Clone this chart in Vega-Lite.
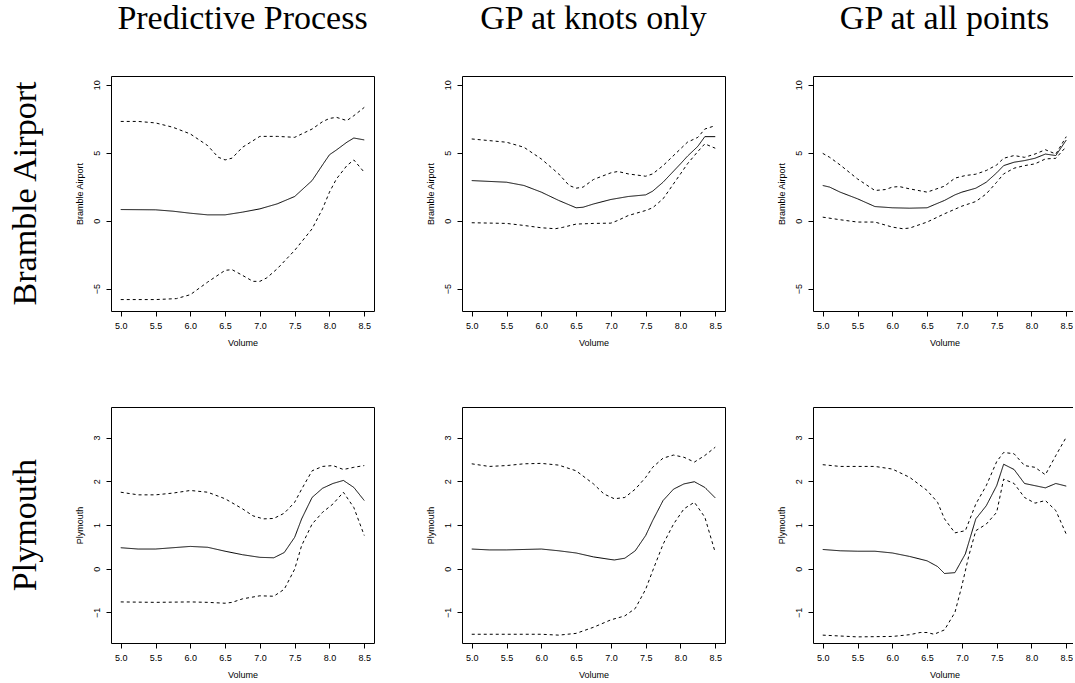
{
  "$schema": "https://vega.github.io/schema/vega-lite/v6.json",
  "background": "white",
  "padding": {"left": 8, "top": 2, "right": -4, "bottom": 0},
  "datasets": {
    "panels": [
      {"p": 1, "site": "Bramble Airport", "method": "Predictive Process"},
      {"p": 2, "site": "Bramble Airport", "method": "GP at knots only"},
      {"p": 3, "site": "Bramble Airport", "method": "GP at all points"},
      {"p": 4, "site": "Plymouth", "method": "Predictive Process"},
      {"p": 5, "site": "Plymouth", "method": "GP at knots only"},
      {"p": 6, "site": "Plymouth", "method": "GP at all points"}
    ],
    "pts": [
      {"p":1,"band":"m","volume":5.0,"value":0.82},{"p":1,"band":"m","volume":5.5,"value":0.8},{"p":1,"band":"m","volume":5.75,"value":0.7},{"p":1,"band":"m","volume":6.0,"value":0.55},{"p":1,"band":"m","volume":6.25,"value":0.43},{"p":1,"band":"m","volume":6.5,"value":0.43},{"p":1,"band":"m","volume":6.75,"value":0.63},{"p":1,"band":"m","volume":7.0,"value":0.87},{"p":1,"band":"m","volume":7.25,"value":1.24},{"p":1,"band":"m","volume":7.5,"value":1.78},{"p":1,"band":"m","volume":7.75,"value":2.95},{"p":1,"band":"m","volume":7.9,"value":4.1},{"p":1,"band":"m","volume":8.0,"value":4.85},{"p":1,"band":"m","volume":8.1,"value":5.2},{"p":1,"band":"m","volume":8.25,"value":5.77},{"p":1,"band":"m","volume":8.35,"value":6.08},{"p":1,"band":"m","volume":8.5,"value":5.94},
      {"p":1,"band":"u","volume":5.0,"value":7.3},{"p":1,"band":"u","volume":5.25,"value":7.3},{"p":1,"band":"u","volume":5.5,"value":7.19},{"p":1,"band":"u","volume":5.75,"value":6.87},{"p":1,"band":"u","volume":6.0,"value":6.38},{"p":1,"band":"u","volume":6.25,"value":5.52},{"p":1,"band":"u","volume":6.4,"value":4.67},{"p":1,"band":"u","volume":6.5,"value":4.47},{"p":1,"band":"u","volume":6.6,"value":4.6},{"p":1,"band":"u","volume":6.75,"value":5.4},{"p":1,"band":"u","volume":7.0,"value":6.2},{"p":1,"band":"u","volume":7.25,"value":6.2},{"p":1,"band":"u","volume":7.5,"value":6.13},{"p":1,"band":"u","volume":7.75,"value":6.74},{"p":1,"band":"u","volume":7.9,"value":7.28},{"p":1,"band":"u","volume":8.0,"value":7.52},{"p":1,"band":"u","volume":8.1,"value":7.6},{"p":1,"band":"u","volume":8.25,"value":7.36},{"p":1,"band":"u","volume":8.35,"value":7.72},{"p":1,"band":"u","volume":8.5,"value":8.33},
      {"p":1,"band":"l","volume":5.0,"value":-5.8},{"p":1,"band":"l","volume":5.5,"value":-5.8},{"p":1,"band":"l","volume":5.8,"value":-5.73},{"p":1,"band":"l","volume":6.0,"value":-5.44},{"p":1,"band":"l","volume":6.25,"value":-4.51},{"p":1,"band":"l","volume":6.5,"value":-3.65},{"p":1,"band":"l","volume":6.6,"value":-3.6},{"p":1,"band":"l","volume":6.75,"value":-4.02},{"p":1,"band":"l","volume":6.9,"value":-4.46},{"p":1,"band":"l","volume":7.0,"value":-4.46},{"p":1,"band":"l","volume":7.1,"value":-4.2},{"p":1,"band":"l","volume":7.25,"value":-3.53},{"p":1,"band":"l","volume":7.5,"value":-2.18},{"p":1,"band":"l","volume":7.75,"value":-0.6},{"p":1,"band":"l","volume":7.9,"value":0.87},{"p":1,"band":"l","volume":8.0,"value":2.1},{"p":1,"band":"l","volume":8.1,"value":3.07},{"p":1,"band":"l","volume":8.25,"value":4.05},{"p":1,"band":"l","volume":8.35,"value":4.47},{"p":1,"band":"l","volume":8.5,"value":3.56},

      {"p":2,"band":"m","volume":5.0,"value":2.95},{"p":2,"band":"m","volume":5.5,"value":2.83},{"p":2,"band":"m","volume":5.75,"value":2.59},{"p":2,"band":"m","volume":6.0,"value":2.1},{"p":2,"band":"m","volume":6.25,"value":1.49},{"p":2,"band":"m","volume":6.5,"value":0.95},{"p":2,"band":"m","volume":6.6,"value":0.99},{"p":2,"band":"m","volume":6.75,"value":1.23},{"p":2,"band":"m","volume":7.0,"value":1.56},{"p":2,"band":"m","volume":7.25,"value":1.78},{"p":2,"band":"m","volume":7.5,"value":1.9},{"p":2,"band":"m","volume":7.6,"value":2.17},{"p":2,"band":"m","volume":7.75,"value":2.83},{"p":2,"band":"m","volume":8.0,"value":4.18},{"p":2,"band":"m","volume":8.1,"value":4.74},{"p":2,"band":"m","volume":8.25,"value":5.47},{"p":2,"band":"m","volume":8.35,"value":6.18},{"p":2,"band":"m","volume":8.5,"value":6.18},
      {"p":2,"band":"u","volume":5.0,"value":6.01},{"p":2,"band":"u","volume":5.5,"value":5.77},{"p":2,"band":"u","volume":5.75,"value":5.4},{"p":2,"band":"u","volume":6.0,"value":4.54},{"p":2,"band":"u","volume":6.25,"value":3.44},{"p":2,"band":"u","volume":6.4,"value":2.59},{"p":2,"band":"u","volume":6.5,"value":2.39},{"p":2,"band":"u","volume":6.6,"value":2.47},{"p":2,"band":"u","volume":6.75,"value":3.03},{"p":2,"band":"u","volume":7.0,"value":3.52},{"p":2,"band":"u","volume":7.1,"value":3.62},{"p":2,"band":"u","volume":7.25,"value":3.44},{"p":2,"band":"u","volume":7.5,"value":3.27},{"p":2,"band":"u","volume":7.6,"value":3.44},{"p":2,"band":"u","volume":7.75,"value":4.05},{"p":2,"band":"u","volume":8.0,"value":5.28},{"p":2,"band":"u","volume":8.1,"value":5.77},{"p":2,"band":"u","volume":8.25,"value":6.13},{"p":2,"band":"u","volume":8.35,"value":6.74},{"p":2,"band":"u","volume":8.5,"value":6.99},
      {"p":2,"band":"l","volume":5.0,"value":-0.15},{"p":2,"band":"l","volume":5.5,"value":-0.2},{"p":2,"band":"l","volume":5.75,"value":-0.35},{"p":2,"band":"l","volume":6.0,"value":-0.52},{"p":2,"band":"l","volume":6.2,"value":-0.59},{"p":2,"band":"l","volume":6.3,"value":-0.5},{"p":2,"band":"l","volume":6.5,"value":-0.25},{"p":2,"band":"l","volume":6.75,"value":-0.2},{"p":2,"band":"l","volume":7.0,"value":-0.18},{"p":2,"band":"l","volume":7.1,"value":0.02},{"p":2,"band":"l","volume":7.25,"value":0.38},{"p":2,"band":"l","volume":7.5,"value":0.75},{"p":2,"band":"l","volume":7.6,"value":0.95},{"p":2,"band":"l","volume":7.75,"value":1.61},{"p":2,"band":"l","volume":8.0,"value":3.44},{"p":2,"band":"l","volume":8.1,"value":4.18},{"p":2,"band":"l","volume":8.25,"value":5.09},{"p":2,"band":"l","volume":8.35,"value":5.65},{"p":2,"band":"l","volume":8.5,"value":5.33},

      {"p":3,"band":"m","volume":5.0,"value":2.59},{"p":3,"band":"m","volume":5.1,"value":2.47},{"p":3,"band":"m","volume":5.25,"value":2.1},{"p":3,"band":"m","volume":5.5,"value":1.61},{"p":3,"band":"m","volume":5.75,"value":1.04},{"p":3,"band":"m","volume":6.0,"value":0.95},{"p":3,"band":"m","volume":6.25,"value":0.92},{"p":3,"band":"m","volume":6.5,"value":0.95},{"p":3,"band":"m","volume":6.6,"value":1.17},{"p":3,"band":"m","volume":6.75,"value":1.49},{"p":3,"band":"m","volume":6.9,"value":1.9},{"p":3,"band":"m","volume":7.0,"value":2.1},{"p":3,"band":"m","volume":7.2,"value":2.39},{"p":3,"band":"m","volume":7.35,"value":2.83},{"p":3,"band":"m","volume":7.5,"value":3.52},{"p":3,"band":"m","volume":7.6,"value":4.05},{"p":3,"band":"m","volume":7.75,"value":4.3},{"p":3,"band":"m","volume":7.9,"value":4.42},{"p":3,"band":"m","volume":8.05,"value":4.59},{"p":3,"band":"m","volume":8.2,"value":4.9},{"p":3,"band":"m","volume":8.35,"value":4.79},{"p":3,"band":"m","volume":8.5,"value":5.93},
      {"p":3,"band":"u","volume":5.0,"value":4.95},{"p":3,"band":"u","volume":5.1,"value":4.66},{"p":3,"band":"u","volume":5.25,"value":4.1},{"p":3,"band":"u","volume":5.5,"value":3.07},{"p":3,"band":"u","volume":5.75,"value":2.22},{"p":3,"band":"u","volume":5.9,"value":2.29},{"p":3,"band":"u","volume":6.0,"value":2.47},{"p":3,"band":"u","volume":6.1,"value":2.51},{"p":3,"band":"u","volume":6.25,"value":2.34},{"p":3,"band":"u","volume":6.5,"value":2.1},{"p":3,"band":"u","volume":6.75,"value":2.54},{"p":3,"band":"u","volume":6.9,"value":3.13},{"p":3,"band":"u","volume":7.05,"value":3.32},{"p":3,"band":"u","volume":7.2,"value":3.42},{"p":3,"band":"u","volume":7.35,"value":3.69},{"p":3,"band":"u","volume":7.5,"value":4.1},{"p":3,"band":"u","volume":7.6,"value":4.59},{"p":3,"band":"u","volume":7.75,"value":4.79},{"p":3,"band":"u","volume":7.9,"value":4.66},{"p":3,"band":"u","volume":8.05,"value":4.9},{"p":3,"band":"u","volume":8.2,"value":5.22},{"p":3,"band":"u","volume":8.35,"value":4.9},{"p":3,"band":"u","volume":8.5,"value":6.18},
      {"p":3,"band":"l","volume":5.0,"value":0.26},{"p":3,"band":"l","volume":5.25,"value":0.07},{"p":3,"band":"l","volume":5.5,"value":-0.1},{"p":3,"band":"l","volume":5.75,"value":-0.1},{"p":3,"band":"l","volume":6.0,"value":-0.47},{"p":3,"band":"l","volume":6.15,"value":-0.59},{"p":3,"band":"l","volume":6.25,"value":-0.54},{"p":3,"band":"l","volume":6.5,"value":-0.1},{"p":3,"band":"l","volume":6.75,"value":0.51},{"p":3,"band":"l","volume":7.0,"value":1.07},{"p":3,"band":"l","volume":7.2,"value":1.41},{"p":3,"band":"l","volume":7.35,"value":1.97},{"p":3,"band":"l","volume":7.5,"value":2.83},{"p":3,"band":"l","volume":7.6,"value":3.44},{"p":3,"band":"l","volume":7.75,"value":3.86},{"p":3,"band":"l","volume":7.9,"value":4.05},{"p":3,"band":"l","volume":8.05,"value":4.18},{"p":3,"band":"l","volume":8.2,"value":4.54},{"p":3,"band":"l","volume":8.35,"value":4.59},{"p":3,"band":"l","volume":8.5,"value":5.45},

      {"p":4,"band":"m","volume":5.0,"value":0.48},{"p":4,"band":"m","volume":5.25,"value":0.45},{"p":4,"band":"m","volume":5.5,"value":0.45},{"p":4,"band":"m","volume":5.75,"value":0.48},{"p":4,"band":"m","volume":6.0,"value":0.51},{"p":4,"band":"m","volume":6.25,"value":0.49},{"p":4,"band":"m","volume":6.5,"value":0.4},{"p":4,"band":"m","volume":6.75,"value":0.32},{"p":4,"band":"m","volume":7.0,"value":0.26},{"p":4,"band":"m","volume":7.2,"value":0.25},{"p":4,"band":"m","volume":7.35,"value":0.37},{"p":4,"band":"m","volume":7.5,"value":0.72},{"p":4,"band":"m","volume":7.6,"value":1.14},{"p":4,"band":"m","volume":7.75,"value":1.63},{"p":4,"band":"m","volume":7.9,"value":1.84},{"p":4,"band":"m","volume":8.05,"value":1.95},{"p":4,"band":"m","volume":8.2,"value":2.02},{"p":4,"band":"m","volume":8.35,"value":1.86},{"p":4,"band":"m","volume":8.5,"value":1.56},
      {"p":4,"band":"u","volume":5.0,"value":1.75},{"p":4,"band":"u","volume":5.25,"value":1.69},{"p":4,"band":"u","volume":5.5,"value":1.69},{"p":4,"band":"u","volume":5.75,"value":1.73},{"p":4,"band":"u","volume":6.0,"value":1.79},{"p":4,"band":"u","volume":6.25,"value":1.75},{"p":4,"band":"u","volume":6.5,"value":1.6},{"p":4,"band":"u","volume":6.75,"value":1.37},{"p":4,"band":"u","volume":6.9,"value":1.21},{"p":4,"band":"u","volume":7.05,"value":1.14},{"p":4,"band":"u","volume":7.2,"value":1.15},{"p":4,"band":"u","volume":7.35,"value":1.27},{"p":4,"band":"u","volume":7.5,"value":1.52},{"p":4,"band":"u","volume":7.6,"value":1.82},{"p":4,"band":"u","volume":7.75,"value":2.24},{"p":4,"band":"u","volume":7.9,"value":2.34},{"p":4,"band":"u","volume":8.05,"value":2.36},{"p":4,"band":"u","volume":8.2,"value":2.27},{"p":4,"band":"u","volume":8.35,"value":2.32},{"p":4,"band":"u","volume":8.5,"value":2.36},
      {"p":4,"band":"l","volume":5.0,"value":-0.76},{"p":4,"band":"l","volume":5.5,"value":-0.77},{"p":4,"band":"l","volume":6.0,"value":-0.76},{"p":4,"band":"l","volume":6.25,"value":-0.77},{"p":4,"band":"l","volume":6.5,"value":-0.79},{"p":4,"band":"l","volume":6.6,"value":-0.77},{"p":4,"band":"l","volume":6.75,"value":-0.69},{"p":4,"band":"l","volume":7.0,"value":-0.62},{"p":4,"band":"l","volume":7.2,"value":-0.63},{"p":4,"band":"l","volume":7.35,"value":-0.47},{"p":4,"band":"l","volume":7.5,"value":-0.01},{"p":4,"band":"l","volume":7.6,"value":0.53},{"p":4,"band":"l","volume":7.75,"value":1.02},{"p":4,"band":"l","volume":7.9,"value":1.29},{"p":4,"band":"l","volume":8.05,"value":1.48},{"p":4,"band":"l","volume":8.2,"value":1.75},{"p":4,"band":"l","volume":8.35,"value":1.4},{"p":4,"band":"l","volume":8.5,"value":0.76},

      {"p":5,"band":"m","volume":5.0,"value":0.45},{"p":5,"band":"m","volume":5.25,"value":0.43},{"p":5,"band":"m","volume":5.5,"value":0.43},{"p":5,"band":"m","volume":5.75,"value":0.44},{"p":5,"band":"m","volume":6.0,"value":0.45},{"p":5,"band":"m","volume":6.25,"value":0.41},{"p":5,"band":"m","volume":6.5,"value":0.36},{"p":5,"band":"m","volume":6.75,"value":0.27},{"p":5,"band":"m","volume":7.0,"value":0.21},{"p":5,"band":"m","volume":7.05,"value":0.2},{"p":5,"band":"m","volume":7.2,"value":0.24},{"p":5,"band":"m","volume":7.35,"value":0.41},{"p":5,"band":"m","volume":7.5,"value":0.76},{"p":5,"band":"m","volume":7.6,"value":1.1},{"p":5,"band":"m","volume":7.75,"value":1.56},{"p":5,"band":"m","volume":7.9,"value":1.82},{"p":5,"band":"m","volume":8.05,"value":1.94},{"p":5,"band":"m","volume":8.2,"value":1.99},{"p":5,"band":"m","volume":8.35,"value":1.86},{"p":5,"band":"m","volume":8.5,"value":1.62},
      {"p":5,"band":"u","volume":5.0,"value":2.4},{"p":5,"band":"u","volume":5.25,"value":2.34},{"p":5,"band":"u","volume":5.5,"value":2.36},{"p":5,"band":"u","volume":5.75,"value":2.4},{"p":5,"band":"u","volume":6.0,"value":2.41},{"p":5,"band":"u","volume":6.25,"value":2.37},{"p":5,"band":"u","volume":6.5,"value":2.24},{"p":5,"band":"u","volume":6.75,"value":1.94},{"p":5,"band":"u","volume":6.9,"value":1.71},{"p":5,"band":"u","volume":7.05,"value":1.6},{"p":5,"band":"u","volume":7.2,"value":1.63},{"p":5,"band":"u","volume":7.35,"value":1.82},{"p":5,"band":"u","volume":7.5,"value":2.09},{"p":5,"band":"u","volume":7.6,"value":2.32},{"p":5,"band":"u","volume":7.75,"value":2.53},{"p":5,"band":"u","volume":7.9,"value":2.6},{"p":5,"band":"u","volume":8.05,"value":2.55},{"p":5,"band":"u","volume":8.2,"value":2.44},{"p":5,"band":"u","volume":8.35,"value":2.59},{"p":5,"band":"u","volume":8.5,"value":2.78},
      {"p":5,"band":"l","volume":5.0,"value":-1.5},{"p":5,"band":"l","volume":5.5,"value":-1.5},{"p":5,"band":"l","volume":6.0,"value":-1.5},{"p":5,"band":"l","volume":6.25,"value":-1.52},{"p":5,"band":"l","volume":6.5,"value":-1.48},{"p":5,"band":"l","volume":6.75,"value":-1.34},{"p":5,"band":"l","volume":7.0,"value":-1.17},{"p":5,"band":"l","volume":7.2,"value":-1.08},{"p":5,"band":"l","volume":7.35,"value":-0.91},{"p":5,"band":"l","volume":7.5,"value":-0.47},{"p":5,"band":"l","volume":7.6,"value":-0.05},{"p":5,"band":"l","volume":7.75,"value":0.56},{"p":5,"band":"l","volume":7.9,"value":1.02},{"p":5,"band":"l","volume":8.05,"value":1.37},{"p":5,"band":"l","volume":8.2,"value":1.52},{"p":5,"band":"l","volume":8.35,"value":1.18},{"p":5,"band":"l","volume":8.5,"value":0.37},

      {"p":6,"band":"m","volume":5.0,"value":0.44},{"p":6,"band":"m","volume":5.25,"value":0.41},{"p":6,"band":"m","volume":5.5,"value":0.4},{"p":6,"band":"m","volume":5.75,"value":0.4},{"p":6,"band":"m","volume":6.0,"value":0.36},{"p":6,"band":"m","volume":6.25,"value":0.28},{"p":6,"band":"m","volume":6.5,"value":0.18},{"p":6,"band":"m","volume":6.65,"value":0.05},{"p":6,"band":"m","volume":6.75,"value":-0.11},{"p":6,"band":"m","volume":6.9,"value":-0.09},{"p":6,"band":"m","volume":7.05,"value":0.34},{"p":6,"band":"m","volume":7.2,"value":1.14},{"p":6,"band":"m","volume":7.35,"value":1.44},{"p":6,"band":"m","volume":7.5,"value":1.9},{"p":6,"band":"m","volume":7.6,"value":2.39},{"p":6,"band":"m","volume":7.75,"value":2.27},{"p":6,"band":"m","volume":7.9,"value":1.95},{"p":6,"band":"m","volume":8.05,"value":1.9},{"p":6,"band":"m","volume":8.2,"value":1.85},{"p":6,"band":"m","volume":8.35,"value":1.95},{"p":6,"band":"m","volume":8.5,"value":1.89},
      {"p":6,"band":"u","volume":5.0,"value":2.38},{"p":6,"band":"u","volume":5.25,"value":2.34},{"p":6,"band":"u","volume":5.5,"value":2.34},{"p":6,"band":"u","volume":5.75,"value":2.34},{"p":6,"band":"u","volume":6.0,"value":2.28},{"p":6,"band":"u","volume":6.25,"value":2.09},{"p":6,"band":"u","volume":6.5,"value":1.79},{"p":6,"band":"u","volume":6.65,"value":1.52},{"p":6,"band":"u","volume":6.75,"value":1.14},{"p":6,"band":"u","volume":6.9,"value":0.82},{"p":6,"band":"u","volume":7.05,"value":0.87},{"p":6,"band":"u","volume":7.2,"value":1.48},{"p":6,"band":"u","volume":7.35,"value":1.9},{"p":6,"band":"u","volume":7.5,"value":2.45},{"p":6,"band":"u","volume":7.6,"value":2.66},{"p":6,"band":"u","volume":7.75,"value":2.63},{"p":6,"band":"u","volume":7.9,"value":2.36},{"p":6,"band":"u","volume":8.05,"value":2.32},{"p":6,"band":"u","volume":8.2,"value":2.15},{"p":6,"band":"u","volume":8.35,"value":2.59},{"p":6,"band":"u","volume":8.5,"value":3.01},
      {"p":6,"band":"l","volume":5.0,"value":-1.52},{"p":6,"band":"l","volume":5.5,"value":-1.56},{"p":6,"band":"l","volume":6.0,"value":-1.55},{"p":6,"band":"l","volume":6.25,"value":-1.51},{"p":6,"band":"l","volume":6.4,"value":-1.46},{"p":6,"band":"l","volume":6.5,"value":-1.46},{"p":6,"band":"l","volume":6.6,"value":-1.5},{"p":6,"band":"l","volume":6.75,"value":-1.4},{"p":6,"band":"l","volume":6.9,"value":-1.0},{"p":6,"band":"l","volume":7.0,"value":-0.39},{"p":6,"band":"l","volume":7.1,"value":0.3},{"p":6,"band":"l","volume":7.2,"value":0.87},{"p":6,"band":"l","volume":7.35,"value":1.02},{"p":6,"band":"l","volume":7.5,"value":1.29},{"p":6,"band":"l","volume":7.6,"value":2.05},{"p":6,"band":"l","volume":7.75,"value":1.95},{"p":6,"band":"l","volume":7.9,"value":1.63},{"p":6,"band":"l","volume":8.05,"value":1.5},{"p":6,"band":"l","volume":8.2,"value":1.56},{"p":6,"band":"l","volume":8.35,"value":1.33},{"p":6,"band":"l","volume":8.5,"value":0.79}
    ]
  },
  "config": {
    "view": {"stroke": "black", "strokeWidth": 1},
    "axis": {
      "domain": false, "grid": false, "ticks": true, "tickColor": "black", "tickSize": 5,
      "labelFont": "Liberation Sans", "labelFontSize": 9, "labelColor": "black", "labelPadding": 5,
      "titleFont": "Liberation Sans", "titleFontSize": 9, "titleFontWeight": "normal", "titleColor": "black"
    },
    "header": {
      "labelFont": "Liberation Serif", "labelFontSize": 34, "labelColor": "black"
    }
  },
  "spacing": 58,
  "vconcat": [
    {
      "data": {"name": "pts"},
      "transform": [
        {"lookup": "p", "from": {"data": {"name": "panels"}, "key": "p", "fields": ["site", "method"]}},
        {"filter": "datum.site == 'Bramble Airport'"}
      ],
      "facet": {
        "row": {"field": "site", "type": "nominal", "header": {"title": null, "labelAngle": -90, "labelOrient": "left", "labelPadding": 51}},
        "column": {"field": "method", "type": "nominal", "sort": ["Predictive Process", "GP at knots only", "GP at all points"], "header": {"title": null, "labelOrient": "top", "labelPadding": 40}}
      },
      "spacing": {"column": 88},
      "bounds": "flush",
      "resolve": {"axis": {"y": "independent", "x": "independent"}},
      "spec": {
        "width": 263,
        "height": 235,
        "mark": {"type": "line", "color": "black", "strokeWidth": 1, "clip": true},
        "encoding": {
          "x": {"field": "volume", "type": "quantitative", "scale": {"domain": [4.86, 8.64], "nice": false, "zero": false},
                "axis": {"values": [5, 5.5, 6, 6.5, 7, 7.5, 8, 8.5], "format": ".1f", "title": "Volume", "titlePadding": 8}},
          "y": {"field": "value", "type": "quantitative", "scale": {"domain": [-6.64, 10.64], "nice": false, "zero": false},
                "axis": {"values": [-5, 0, 5, 10], "title": "Bramble Airport", "labelAngle": -90, "labelAlign": "center", "labelBaseline": "bottom", "titlePadding": 8}},
          "detail": {"field": "band"},
          "strokeDash": {"field": "band", "type": "nominal", "scale": {"domain": ["m", "l", "u"], "range": [[1, 0], [3, 3], [3, 3]]}, "legend": null}
        }
      }
    },
    {
      "data": {"name": "pts"},
      "transform": [
        {"lookup": "p", "from": {"data": {"name": "panels"}, "key": "p", "fields": ["site", "method"]}},
        {"filter": "datum.site == 'Plymouth'"}
      ],
      "facet": {
        "row": {"field": "site", "type": "nominal", "header": {"title": null, "labelAngle": -90, "labelOrient": "left", "labelPadding": 51}},
        "column": {"field": "method", "type": "nominal", "sort": ["Predictive Process", "GP at knots only", "GP at all points"], "header": {"title": null, "labels": false}}
      },
      "spacing": {"column": 88},
      "bounds": "flush",
      "resolve": {"axis": {"y": "independent", "x": "independent"}},
      "spec": {
        "width": 263,
        "height": 236,
        "mark": {"type": "line", "color": "black", "strokeWidth": 1, "clip": true},
        "encoding": {
          "x": {"field": "volume", "type": "quantitative", "scale": {"domain": [4.86, 8.64], "nice": false, "zero": false},
                "axis": {"values": [5, 5.5, 6, 6.5, 7, 7.5, 8, 8.5], "format": ".1f", "title": "Volume", "titlePadding": 8}},
          "y": {"field": "value", "type": "quantitative", "scale": {"domain": [-1.7, 3.7], "nice": false, "zero": false},
                "axis": {"values": [-1, 0, 1, 2, 3], "title": "Plymouth", "labelAngle": -90, "labelAlign": "center", "labelBaseline": "bottom", "titlePadding": 8}},
          "detail": {"field": "band"},
          "strokeDash": {"field": "band", "type": "nominal", "scale": {"domain": ["m", "l", "u"], "range": [[1, 0], [3, 3], [3, 3]]}, "legend": null}
        }
      }
    }
  ]
}
